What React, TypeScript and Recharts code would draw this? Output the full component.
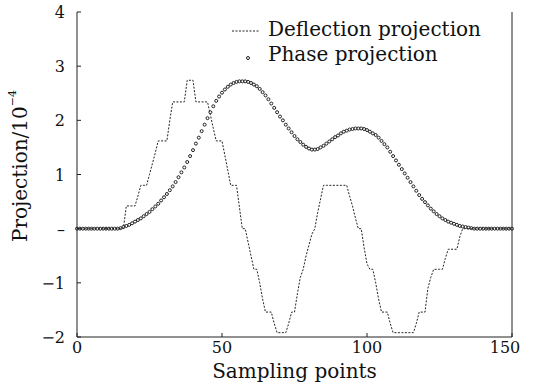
// App.tsx
import React from 'react';
import { LineChart, Line, XAxis, YAxis, Legend } from 'recharts';

const FONT = '"DejaVu Serif", serif';

// sample index along the x axis (0..150)
const samplePoints: number[] = Array.from({ length: 151 }, (_, i) => i);

// deflection projection, one value per sample point
const deflection: number[] = [
    0, 0, 0, 0, 0, 0, 0, 0, 0, 0,
    0, 0, 0, 0, 0, 0, 0, 0.42, 0.42, 0.42,
    0.42, 0.6, 0.8, 0.8, 0.8, 1.0, 1.2, 1.4, 1.62, 1.62,
    1.62, 1.62, 2.0, 2.34, 2.34, 2.34, 2.34, 2.34, 2.74, 2.74,
    2.74, 2.34, 2.34, 2.34, 2.34, 2.34, 2.1, 1.85, 1.62, 1.62,
    1.62, 1.35, 1.08, 0.8, 0.8, 0.8, 0.4, 0, 0, -0.25,
    -0.5, -0.75, -0.75, -1.0, -1.3, -1.54, -1.54, -1.54, -1.75, -1.92,
    -1.92, -1.92, -1.92, -1.75, -1.54, -1.54, -1.2, -0.9, -0.75, -0.5,
    -0.3, -0.1, 0, 0.3, 0.55, 0.8, 0.8, 0.8, 0.8, 0.8,
    0.8, 0.8, 0.8, 0.8, 0.6, 0.42, 0.2, 0, 0, -0.35,
    -0.65, -0.75, -0.75, -1.0, -1.3, -1.54, -1.54, -1.54, -1.75, -1.92,
    -1.92, -1.92, -1.92, -1.92, -1.92, -1.92, -1.92, -1.75, -1.54, -1.54,
    -1.54, -1.1, -0.9, -0.75, -0.75, -0.75, -0.75, -0.55, -0.38, -0.38,
    -0.38, -0.38, -0.15, 0, 0, 0, 0, 0, 0, 0,
    0, 0, 0, 0, 0, 0, 0, 0, 0, 0,
    0,
];

// phase projection, one value per sample point
const phase: number[] = [
    0, 0, 0, 0, 0, 0, 0, 0, 0, 0,
    0, 0, 0, 0, 0, 0.01, 0.03, 0.05, 0.07, 0.1,
    0.13, 0.16, 0.19, 0.23, 0.27, 0.31, 0.36, 0.41, 0.46, 0.52,
    0.58, 0.64, 0.71, 0.78, 0.86, 0.95, 1.04, 1.13, 1.23, 1.34,
    1.45, 1.57, 1.68, 1.8, 1.92, 2.04, 2.15, 2.26, 2.36, 2.44,
    2.51, 2.57, 2.62, 2.66, 2.69, 2.71, 2.72, 2.72, 2.72, 2.71,
    2.69, 2.66, 2.63, 2.58, 2.52, 2.46, 2.39, 2.31, 2.23, 2.15,
    2.07, 2.0, 1.92, 1.85, 1.78, 1.71, 1.65, 1.6, 1.55, 1.51,
    1.48, 1.46, 1.46, 1.47, 1.5, 1.53, 1.57, 1.61, 1.65, 1.69,
    1.72, 1.76, 1.79, 1.81, 1.83, 1.84, 1.85, 1.85, 1.85, 1.84,
    1.82, 1.79, 1.76, 1.73, 1.68, 1.62, 1.56, 1.5, 1.42, 1.34,
    1.26, 1.18, 1.1, 1.02, 0.94, 0.86, 0.78, 0.7, 0.62, 0.55,
    0.49, 0.43, 0.37, 0.32, 0.27, 0.23, 0.19, 0.16, 0.13, 0.11,
    0.09, 0.07, 0.05, 0.04, 0.03, 0.02, 0.01, 0, 0, 0,
    0, 0, 0, 0, 0, 0, 0, 0, 0, 0,
    0,
];

const xTicks = [0, 50, 100, 150];
const yTicks = [-2, -1, 0, 1, 2, 3, 4];

const data = samplePoints.map((x, i) => ({ x, deflection: deflection[i], phase: phase[i] }));

const INK = '#222';

const BottomTick = (props: any) => {
    const { x, y, payload } = props;
    // the last label sits a little left of its tick in the original
    const tx = payload.value === 150 ? x - 7 : x;
    return (
        <g>
            <line x1={x} y1={y} x2={x} y2={y - 4} stroke={INK} />
            <text x={tx} y={y + 16} textAnchor="middle" fontFamily={FONT} fontSize={16} fill="#111">
                {payload.value}
            </text>
        </g>
    );
};

const LeftTick = (props: any) => {
    const { x, y, payload } = props;
    const v = payload.value;
    const label = v === 0 ? '–' : v < 0 ? `−${Math.abs(v)}` : String(v);
    return (
        <g>
            <line x1={x} y1={y} x2={x + 4} y2={y} stroke={INK} />
            <text x={x - 12} y={y + 6} textAnchor="end" fontFamily={FONT} fontSize={16} fill="#111">
                {label}
            </text>
        </g>
    );
};

const TopTick = (props: any) => {
    const { x, y } = props;
    return <line x1={x} y1={y} x2={x} y2={y + 4} stroke={INK} />;
};

const RightTick = (props: any) => {
    const { x, y } = props;
    return <line x1={x} y1={y} x2={x - 4} y2={y} stroke={INK} />;
};

const PhaseDot = (props: any) => {
    const { cx, cy, index } = props;
    if (cx == null || cy == null) return <g key={index} />;
    return <circle key={index} cx={cx} cy={cy} r={1.5} fill="none" stroke={INK} strokeWidth={1} />;
};

const YLabel = (props: any) => (
    <text
        x={20}
        y={166}
        transform="rotate(-90, 20, 166)"
        textAnchor="middle"
        dominantBaseline="central"
        fontFamily={FONT}
        fontSize={20}
        fill="#111"
    >
        Projection/10
        <tspan dy={-8} fontSize={11}>−4</tspan>
    </text>
);

const LegendBox = () => (
    <div style={{ fontFamily: FONT, fontSize: 20, lineHeight: '25px', color: '#111' }}>
        <div style={{ display: 'flex', alignItems: 'center', whiteSpace: 'nowrap' }}>
            <svg width={40} height={25}>
                <line x1={4} x2={32} y1={14} y2={14} stroke={INK} strokeDasharray="2 1.5" />
            </svg>
            <span>Deflection projection</span>
        </div>
        <div style={{ display: 'flex', alignItems: 'center', whiteSpace: 'nowrap' }}>
            <svg width={40} height={25}>
                <circle cx={20} cy={16} r={1.5} fill="none" stroke={INK} />
            </svg>
            <span>Phase projection</span>
        </div>
    </div>
);

export default function App() {
    return (
        <div style={{ position: 'absolute', left: 0, top: 0 }}>
            <LineChart width={533} height={391} data={data} margin={{ top: 12, right: 0, bottom: 0, left: 0 }}>
                <XAxis
                    dataKey="x"
                    type="number"
                    domain={[0, 150]}
                    ticks={xTicks}
                    height={54}
                    tickSize={0}
                    tickMargin={0}
                    tickLine={false}
                    axisLine={{ stroke: INK }}
                    tick={<BottomTick />}
                    label={{ value: 'Sampling points', position: 'insideBottom', offset: 13, fontFamily: FONT, fontSize: 20, fill: '#111' }}
                />
                <XAxis
                    xAxisId="top"
                    orientation="top"
                    dataKey="x"
                    type="number"
                    domain={[0, 150]}
                    ticks={xTicks}
                    height={0}
                    tickSize={0}
                    tickMargin={0}
                    tickLine={false}
                    axisLine={{ stroke: INK }}
                    tick={<TopTick />}
                />
                <YAxis
                    type="number"
                    domain={[-2, 4]}
                    ticks={yTicks}
                    width={77}
                    tickSize={0}
                    tickMargin={0}
                    tickLine={false}
                    axisLine={{ stroke: INK }}
                    tick={<LeftTick />}
                    label={<YLabel />}
                />
                <YAxis
                    yAxisId="right"
                    orientation="right"
                    type="number"
                    domain={[-2, 4]}
                    ticks={yTicks}
                    width={21}
                    tickSize={0}
                    tickMargin={0}
                    tickLine={false}
                    axisLine={{ stroke: INK }}
                    tick={<RightTick />}
                />
                <Legend
                    layout="vertical"
                    align="center"
                    verticalAlign="middle"
                    content={<LegendBox />}
                    wrapperStyle={{ left: 228, top: 17, width: 'auto' }}
                />
                <Line
                    type="linear"
                    dataKey="deflection"
                    name="Deflection projection"
                    stroke={INK}
                    strokeWidth={1}
                    strokeDasharray="2 1.5"
                    dot={false}
                    isAnimationActive={false}
                />
                <Line
                    type="linear"
                    dataKey="phase"
                    name="Phase projection"
                    stroke="none"
                    dot={PhaseDot}
                    activeDot={false}
                    isAnimationActive={false}
                />
            </LineChart>
        </div>
    );
}
